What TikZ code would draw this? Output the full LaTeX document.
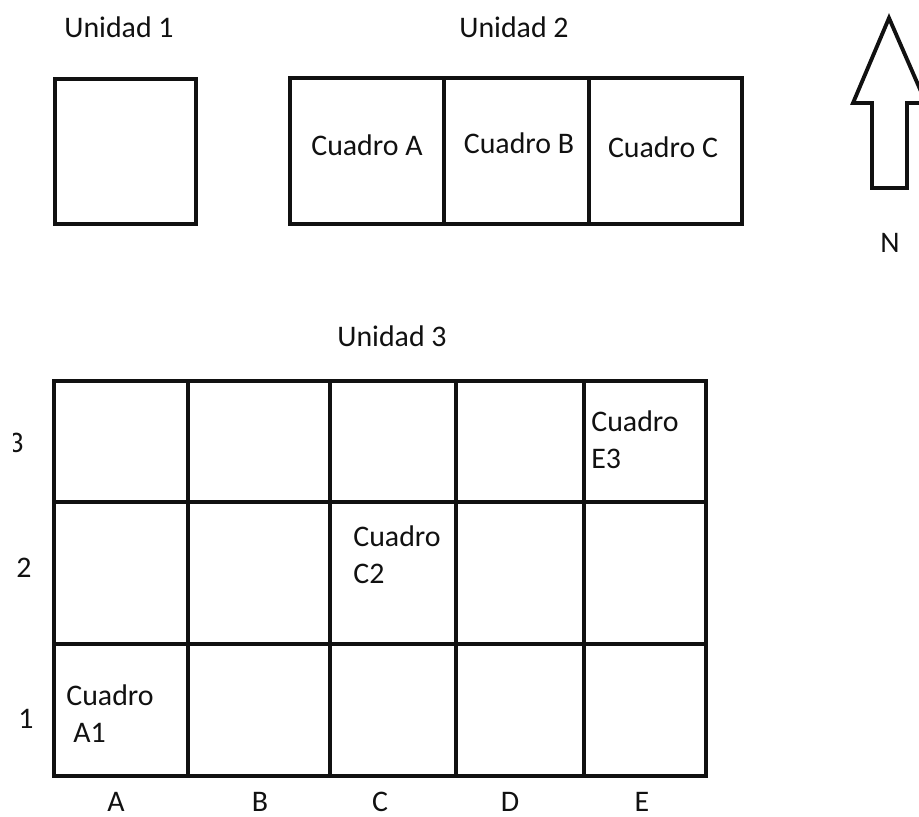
\documentclass[tikz,border=0pt]{standalone}
\usepackage{fontspec}
\setmainfont{Carlito}
\usetikzlibrary{positioning}
\definecolor{ink}{HTML}{111111}
\tikzset{
  box/.style={draw=ink, line width=2.7pt},
  lbl/.style={font=\fontsize{17}{21}\selectfont, text=ink, inner sep=0pt, anchor=base},
  celltxt/.style={lbl, anchor=base west, align=left},
}

\begin{document}
\begin{tikzpicture}[x=0.02cm, y=-0.02cm]
\useasboundingbox (0,0) rectangle (919,816);
% unidad 1
\node[lbl] (u1) at (119,37) {Unidad 1};
\draw[box] (55,79) rectangle (196,224);

% unidad 2
\node[lbl] (u2) at (514,37) {Unidad 2};
\draw[box] (290,78) rectangle (742,224);
\draw[box] (444,78) -- (444,224) (589,78) -- (589,224);
\node[lbl] (qa) at (367,155) {Cuadro A};
\node[lbl] (qb) at (519,153) {Cuadro B};
\node[lbl] (qc) at (663,157) {Cuadro C};

% norte
\draw[box, line width=2.2pt, line join=miter] (889,18) -- (926,103) -- (907,103)
  -- (907,188) -- (872,188) -- (872,103) -- (853,103) -- cycle;
\node[lbl] (n) at (890,252) {N};

% unidad 3
\node[lbl] (u3) at (392,346) {Unidad 3};
\draw[box] (54,381) rectangle (706,776);
\foreach \x in {188,330,456,584}
  \draw[box] (\x,381) -- (\x,776);
\foreach \y in {502,644}
  \draw[box] (54,\y) -- (706,\y);

\foreach \c/\x in {A/116,B/260,C/380,D/510,E/642}
  \node[lbl] (col\c) at (\x,811) {\c};
\begin{scope}
  \clip (13,400) rectangle (40,470);
  \node[lbl] (row3) at (16,452) {3};
\end{scope}
\node[lbl] (row2) at (24,577) {2};
\node[lbl] (row1) at (26,728) {1};

% base anchor sits on the last line
\node[celltxt] (a1) at (66,742) {Cuadro\\\hspace{0.14cm}A1};
\node[celltxt] (c2) at (353,583) {Cuadro\\C2};
\node[celltxt] (e3) at (591,468) {Cuadro\\E3};
\end{tikzpicture}
\end{document}
